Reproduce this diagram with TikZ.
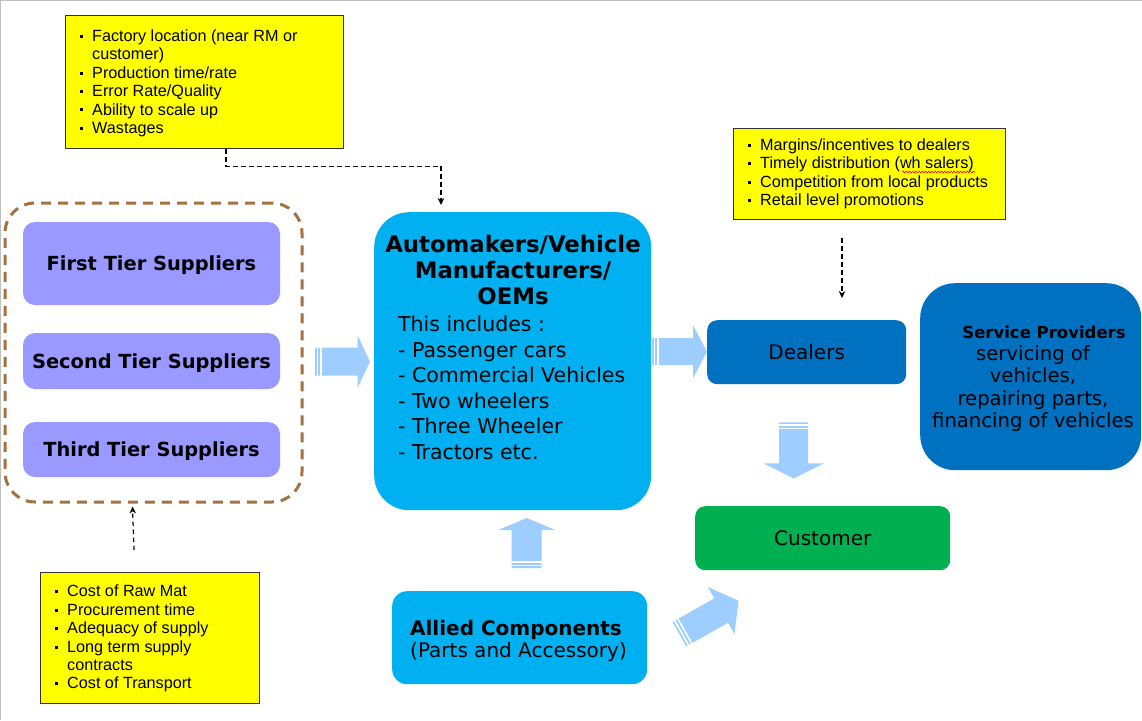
\documentclass[tikz,border=0pt]{standalone}
\usepackage{fontspec}
\setmainfont{Liberation Sans}
\newfontfamily\vf{DejaVu Sans}
\usetikzlibrary{arrows.meta,calc,decorations.pathmorphing}

\definecolor{notey}{RGB}{255,255,0}
\definecolor{lav}{RGB}{153,153,255}
\definecolor{grpbrown}{RGB}{163,114,62}
\definecolor{oemblue}{RGB}{0,176,240}
\definecolor{dblue}{RGB}{0,112,192}
\definecolor{cgreen}{RGB}{0,176,80}
\definecolor{arrowfill}{RGB}{158,206,255}

% small square bullet hanging left of the text
\newcommand\yb{\leavevmode\llap{\raisebox{3.6pt}{\rule{3pt}{3pt}}\hspace{9.5pt}}}

\tikzset{
  ybox/.style={draw=black!80, line width=1.4pt, fill=notey, rectangle, inner sep=0pt},
  ytext/.style={anchor=north west, align=left, inner sep=0pt,
                font=\fontsize{16.2}{18.4}\selectfont},
  tier/.style={fill=lav, rounded corners=12pt, minimum width=257pt,
               inner sep=0pt, text height=14pt, text depth=0pt,
               font=\vf\bfseries\fontsize{19.4}{23}\selectfont},
  solidbox/.style={rounded corners=#1, inner sep=0pt, anchor=north west},
  dlink/.style={line width=1.2pt, dash pattern=on 4.5pt off 3.5pt,
                -{Stealth[length=7pt,width=6.5pt]}},
  pics/barrow/.style n args={4}{code={
    % #1 length, #2 half body width, #3 half head width, #4 head length
    \fill[arrowfill] (0,-#2) -- ({#1-#4},-#2) -- ({#1-#4},-#3) -- (#1,0)
      -- ({#1-#4},#3) -- ({#1-#4},#2) -- (0,#2) -- cycle;
    \draw[white, line width=1.5pt] (2.6,{-#2-1}) -- (2.6,{#2+1})
      (6.2,{-#2-1}) -- (6.2,{#2+1});
  }}
}

\begin{document}
\begin{tikzpicture}[x=1pt,y=-1pt]
\useasboundingbox (0,0) rectangle (1142,720);
\fill[white] (0,0) rectangle (1142,720);
\draw[black!25, line width=2.5pt] (0,720) -- (0,0) -- (1142,0);

% ---------- note boxes ----------
\node[ybox, minimum width=278pt, minimum height=133pt, anchor=north west] (fbox) at (65,15) {};
\node[ytext] (ftext) at (92,29.5) {\yb Factory location (near RM or\\ customer)\\ \yb Production time/rate\\ \yb Error Rate/Quality\\ \yb Ability to scale up\\ \yb Wastages};

\node[ybox, minimum width=272pt, minimum height=91pt, anchor=north west] (mbox) at (733,128) {};
\node[ytext] (mtext) at (760,138.5) {\yb Margins/incentives to dealers\\ \yb Timely distribution (wh salers)\\ \yb Competition from local products\\ \yb Retail level promotions};
\draw[red, line width=0.6pt, decorate, decoration={snake, amplitude=0.9pt, segment length=3.2pt}]
  ($(mtext.north west)+(142,33.5)$) -- ++(73,0);

\node[ybox, minimum width=219pt, minimum height=131pt, anchor=north west] (lbox) at (40,572) {};
\node[ytext] (ltext) at (67,585) {\yb Cost of Raw Mat\\ \yb Procurement time\\ \yb Adequacy of supply\\ \yb Long term supply\\ contracts\\ \yb Cost of Transport};

% ---------- suppliers ----------
\node[draw=grpbrown, line width=3pt, dash pattern=on 10pt off 7pt, rounded corners=30pt,
      minimum width=297pt, minimum height=299pt, inner sep=0pt] (grp) at (153.5,352.5) {};
\node[tier, minimum height=83pt] (t1) at (151.5,263.5) {First Tier Suppliers};
\node[tier, minimum height=56pt] (t2) at (151.5,361) {Second Tier Suppliers};
\node[tier, minimum height=55pt] (t3) at (151.5,449.5) {Third Tier Suppliers};

% ---------- manufacturers ----------
\node[solidbox=35pt, fill=oemblue, minimum width=277pt, minimum height=298pt] (oem) at (374,212) {};
\node[anchor=north, align=center, inner sep=0pt,
      font=\vf\bfseries\fontsize{22.8}{26}\selectfont] (oemtitle) at (513,234.5)
      {Automakers/Vehicle\\ Manufacturers/\\ OEMs};
\node[anchor=north west, align=left, inner sep=0pt,
      font=\vf\fontsize{20.5}{25.5}\selectfont] (oemlist) at (398,316)
      {This includes :\\ - Passenger cars\\ - Commercial Vehicles\\ - Two wheelers\\ - Three Wheeler\\ - Tractors etc.};

% ---------- downstream ----------
\node[solidbox=10pt, fill=dblue, minimum width=199pt, minimum height=64pt,
      font=\vf\fontsize{20}{24}\selectfont] (dealers) at (707,320) {Dealers};
\node[solidbox=35pt, fill=dblue, minimum width=221pt, minimum height=187pt] (service) at (920,283) {};
\node[anchor=base, inner sep=0pt, font=\vf\bfseries\fontsize{16.5}{20}\selectfont] (servtitle)
      at (1044,338) {Service Providers};
\node[anchor=north, align=center, inner sep=0pt, font=\vf\fontsize{19.6}{22.6}\selectfont] (servtext)
      at (1033,345) {servicing of\\ vehicles,\\ repairing parts,\\ financing of vehicles};
\node[solidbox=10pt, fill=cgreen, minimum width=255pt, minimum height=64pt,
      font=\vf\fontsize{20}{24}\selectfont] (customer) at (695,506) {Customer};

\node[solidbox=15pt, fill=oemblue, minimum width=255pt, minimum height=93pt] (allied) at (392,591) {};
\node[anchor=base, inner sep=0pt, font=\vf\bfseries\fontsize{20}{24}\selectfont] (alliedtitle)
      at (516,635) {Allied Components};
\node[anchor=base, inner sep=0pt, font=\vf\fontsize{20}{24}\selectfont] (alliedsub)
      at (518.5,657) {(Parts and Accessory)};

% ---------- flow arrows ----------
\pic at ($(oem.west)+(-59,0.5)$) {barrow={55}{14}{26.5}{12.5}};
\pic at ($(dealers.west)+(-55,-0.5)$) {barrow={55}{13.5}{26.5}{14}};
\pic[rotate=-90] at ($(dealers.south)+(-13,38)$) {barrow={56}{14.5}{30}{15}};
\pic[rotate=90] at ($(allied.north)+(7,-23)$) {barrow={50}{15}{28.5}{12}};
\pic[rotate=29.5] at ($(allied.east)+(32,-3.5)$) {barrow={68}{14}{27}{20}};

% ---------- dashed influence links ----------
\draw[dlink] ($(fbox.south west)+(161,0)$) -- ++(0,17) -| ($(oem.north west)+(67,-7)$);
\draw[dlink] ($(mbox.south west)+(109,18)$) -- ($(dealers.north west)+(135,-22)$);
\draw[dlink] ($(lbox.north west)+(94,-22)$) -- ($(grp.south west)+(129,3)$);
\end{tikzpicture}
\end{document}
